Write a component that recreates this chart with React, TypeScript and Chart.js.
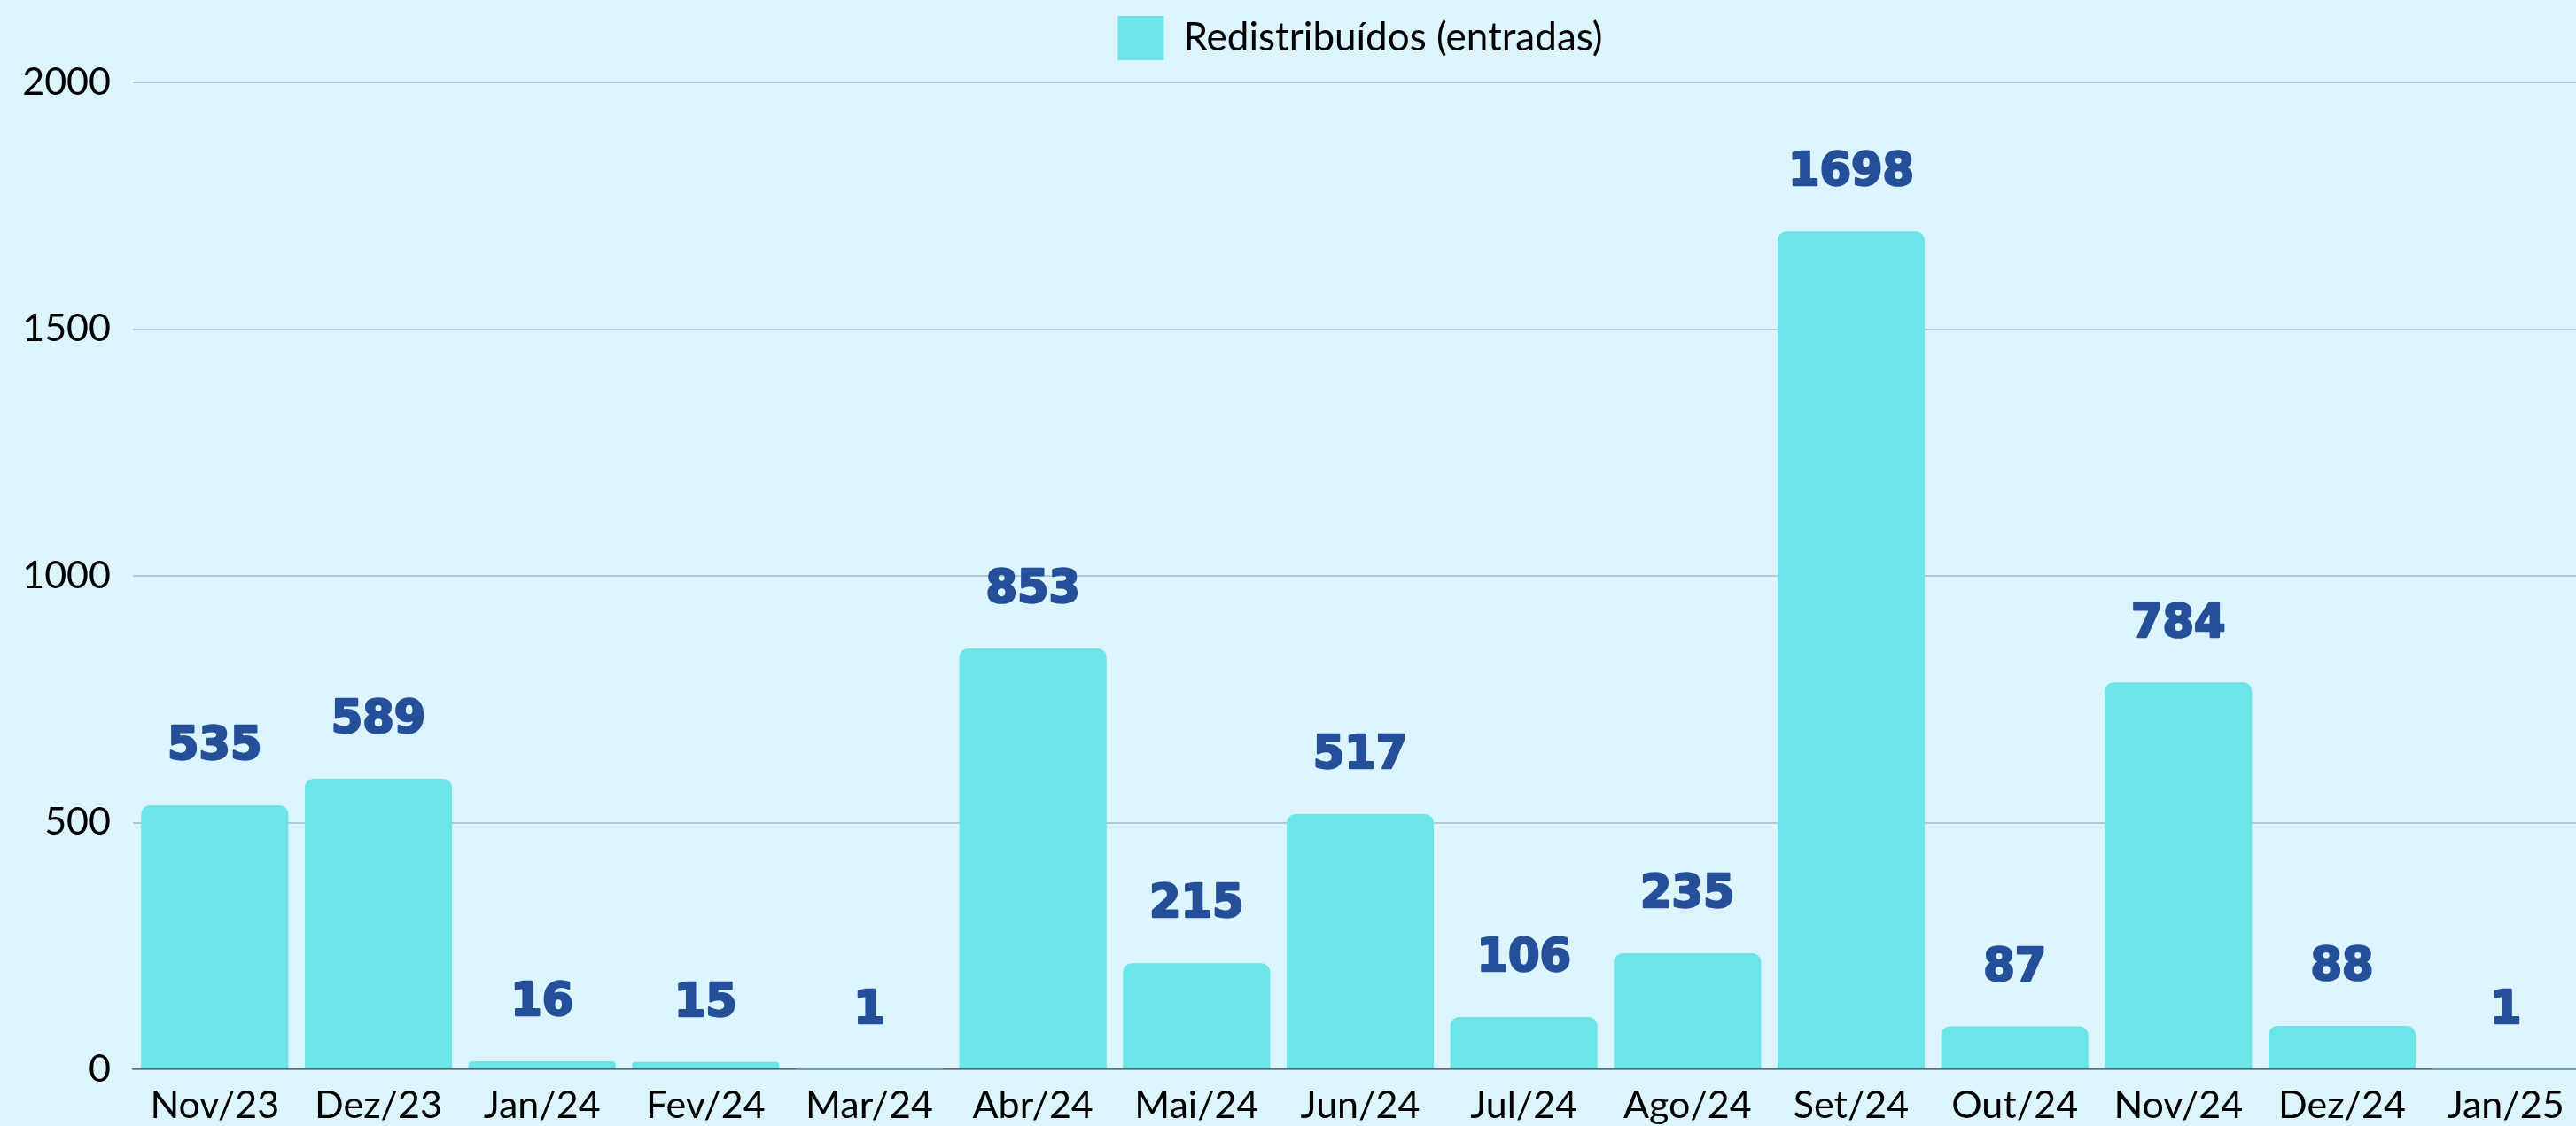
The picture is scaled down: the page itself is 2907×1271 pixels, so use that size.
import React, { useEffect, useRef } from "react";
import { Chart, registerables } from "chart.js";

Chart.register(...registerables);

const categories = [
  "Nov/23", "Dez/23", "Jan/24", "Fev/24", "Mar/24", "Abr/24", "Mai/24", "Jun/24",
  "Jul/24", "Ago/24", "Set/24", "Out/24", "Nov/24", "Dez/24", "Jan/25",
];
const redistribuidos = [535, 589, 16, 15, 1, 853, 215, 517, 106, 235, 1698, 87, 784, 88, 1];
const seriesLabel = "Redistribuídos (entradas)";
const yMin = 0;
const yMax = 2000;
const yStep = 500;

const VIEW_W = 2907;
const VIEW_H = 1271;
const CANVAS_W = 2920;

const BG = "#dcf5fc";
const BAR = "#6ce5e8";
const LABEL = "#264f99";

const bgPlugin = {
  id: "bgFill",
  beforeDraw(chart: any) {
    const { ctx, width, height } = chart;
    ctx.save();
    ctx.fillStyle = BG;
    ctx.fillRect(0, 0, width, height);
    ctx.restore();
  },
};

const legendGapPlugin = {
  id: "legendGap",
  beforeInit(chart: any) {
    const legend = chart.legend;
    if (!legend) return;
    const origFit = legend.fit;
    legend.fit = function () {
      origFit.call(this);
      this.height += 15;
    };
  },
};

const valueLabelPlugin = {
  id: "valueLabels",
  afterDatasetsDraw(chart: any) {
    const { ctx } = chart;
    const meta = chart.getDatasetMeta(0);
    const data = chart.data.datasets[0].data as number[];
    ctx.save();
    ctx.font = "bold 51px 'DejaVu Sans'";
    ctx.fillStyle = LABEL;
    ctx.strokeStyle = LABEL;
    ctx.lineWidth = 2.5;
    ctx.lineJoin = "round";
    ctx.textAlign = "center";
    ctx.textBaseline = "middle";
    meta.data.forEach((bar: any, i: number) => {
      const t = String(data[i]);
      ctx.strokeText(t, bar.x, bar.y - 65);
      ctx.fillText(t, bar.x, bar.y - 65);
    });
    ctx.restore();
  },
};

export default function App() {
  const ref = useRef<HTMLCanvasElement | null>(null);

  useEffect(() => {
    document.body.style.margin = "0";
    document.body.style.overflow = "hidden";
    const canvas = ref.current;
    if (!canvas) return;
    const chart = new Chart(canvas, {
      type: "bar",
      data: {
        labels: categories,
        datasets: [
          {
            label: seriesLabel,
            data: redistribuidos,
            backgroundColor: BAR,
            borderRadius: 10,
            borderSkipped: "bottom",
            barPercentage: 0.9,
            categoryPercentage: 1.0,
          },
        ],
      },
      options: {
        responsive: false,
        animation: false,
        devicePixelRatio: 1,
        layout: { padding: { top: 8, left: 0, right: 0, bottom: 0 } },
        plugins: {
          legend: {
            display: true,
            position: "top",
            fullSize: false,
            labels: {
              boxWidth: 52,
              boxHeight: 50,
              color: "#000",
              font: { family: "Lato", size: 44 },
              padding: 10,
            },
          },
          tooltip: { enabled: false },
        },
        scales: {
          x: {
            grid: { display: false, drawTicks: false },
            border: { display: true, color: "#5f6970", width: 1.5 },
            ticks: {
              color: "#000",
              font: { family: "Lato", size: 43 },
              padding: 15,
              maxRotation: 0,
              autoSkip: false,
            },
            afterFit(scale: any) {
              scale.height = 64;
            },
          },
          y: {
            min: yMin,
            max: yMax,
            grid: { color: "#b5c9d4", lineWidth: 2, drawTicks: false },
            border: { display: false },
            ticks: {
              stepSize: yStep,
              color: "#000",
              font: { family: "Lato", size: 43 },
              padding: 25,
              callback: (v: any) => String(v),
            },
            afterFit(scale: any) {
              scale.width = 150;
            },
          },
        },
      },
      plugins: [bgPlugin, legendGapPlugin, valueLabelPlugin],
    });
    return () => chart.destroy();
  }, []);

  return (
    <div style={{ width: VIEW_W, height: VIEW_H, overflow: "hidden", background: BG }}>
      <canvas ref={ref} width={CANVAS_W} height={VIEW_H} style={{ display: "block", width: CANVAS_W, height: VIEW_H }} />
    </div>
  );
}
